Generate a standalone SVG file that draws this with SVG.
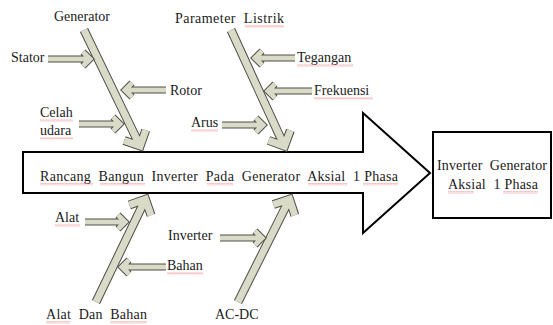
<svg xmlns="http://www.w3.org/2000/svg" width="553" height="325" viewBox="0 0 553 325">
<style>
  text { font-family: "Liberation Serif", "Times New Roman", serif; font-size: 14px; fill: #1a1a1a; white-space: pre; }
  .ao { fill: none; stroke: #4f4f47; stroke-linecap: butt; stroke-linejoin: miter; stroke-miterlimit: 10; }
  .ai { fill: none; stroke: #d9dac8; stroke-linecap: butt; stroke-linejoin: miter; stroke-miterlimit: 10; }
  .bone .ao { stroke-width: 9; }
  .bone .ai { stroke-width: 7; }
  .small .ao { stroke-width: 7; }
  .small .ai { stroke-width: 5; }
  .outline { fill: #ffffff; stroke: #000000; stroke-width: 2; }
  .sq { fill: url(#wavy); opacity: 0.75; }
</style>
<defs>
  <pattern id="wavy" width="3" height="2.5" patternUnits="userSpaceOnUse">
    <path d="M0,2 L0.75,0.5 L1.5,2 L2.25,0.5 L3,2" fill="none" stroke="#e0302a" stroke-width="0.6" stroke-dasharray="1 0.6"/>
  </pattern>
</defs>

<g id="spine">
  <polygon class="outline" points="23,152 363,152 363,113 430,173 363,233 363,193 23,193"/>
  <text x="40" y="181" textLength="358" lengthAdjust="spacing">Rancang  Bangun  Inverter  Pada  Generator  Aksial  1 Phasa</text>
</g>

<g id="result">
  <rect class="outline" x="433" y="132" width="118" height="86"/>
  <text x="437" y="170" textLength="110" lengthAdjust="spacing">Inverter  Generator</text>
  <text x="448" y="189" textLength="90" lengthAdjust="spacing">Aksial  1 Phasa</text>
</g>

<g id="connectors">
  <g class="bone" id="bone-generator" transform="translate(84,30) rotate(64.2)">
    <path class="ao" d="M0,0 H129 M117,-12 L129,0 L117,12"/>
    <path class="ai" d="M0,0 H129 M117,-12 L129,0 L117,12"/>
  </g>
  <g class="bone" id="bone-parameter" transform="translate(231,30) rotate(65.3)">
    <path class="ao" d="M0,0 H128 M116,-12 L128,0 L116,12"/>
    <path class="ai" d="M0,0 H128 M116,-12 L128,0 L116,12"/>
  </g>
  <g class="bone" id="bone-alat" transform="translate(96,302) rotate(-64.3)">
    <path class="ao" d="M0,0 H114 M102,-12 L114,0 L102,12"/>
    <path class="ai" d="M0,0 H114 M102,-12 L114,0 L102,12"/>
  </g>
  <g class="bone" id="bone-acdc" transform="translate(238,302) rotate(-63.4)">
    <path class="ao" d="M0,0 H115 M103,-12 L115,0 L103,12"/>
    <path class="ai" d="M0,0 H115 M103,-12 L115,0 L103,12"/>
  </g>

  <g class="small" id="arrow-stator">
    <path class="ao" d="M48,59 H90 M83,52 L90,59 L83,66"/>
    <path class="ai" d="M48,59 H90 M83,52 L90,59 L83,66"/>
  </g>
  <g class="small" id="arrow-rotor">
    <path class="ao" d="M166,90 H125 M132,83 L125,90 L132,97"/>
    <path class="ai" d="M166,90 H125 M132,83 L125,90 L132,97"/>
  </g>
  <g class="small" id="arrow-celah">
    <path class="ao" d="M79,124 H120 M113,117 L120,124 L113,131"/>
    <path class="ai" d="M79,124 H120 M113,117 L120,124 L113,131"/>
  </g>
  <g class="small" id="arrow-tegangan">
    <path class="ao" d="M295,58 H255 M262,51 L255,58 L262,65"/>
    <path class="ai" d="M295,58 H255 M262,51 L255,58 L262,65"/>
  </g>
  <g class="small" id="arrow-frekuensi">
    <path class="ao" d="M312,91 H268 M275,84 L268,91 L275,98"/>
    <path class="ai" d="M312,91 H268 M275,84 L268,91 L275,98"/>
  </g>
  <g class="small" id="arrow-arus">
    <path class="ao" d="M222,125 H263 M256,118 L263,125 L256,132"/>
    <path class="ai" d="M222,125 H263 M256,118 L263,125 L256,132"/>
  </g>
  <g class="small" id="arrow-alat">
    <path class="ao" d="M85,222 H125 M118,215 L125,222 L118,229"/>
    <path class="ai" d="M85,222 H125 M118,215 L125,222 L118,229"/>
  </g>
  <g class="small" id="arrow-bahan">
    <path class="ao" d="M166,267 H122 M129,260 L122,267 L129,274"/>
    <path class="ai" d="M166,267 H122 M129,260 L122,267 L129,274"/>
  </g>
  <g class="small" id="arrow-inverter">
    <path class="ao" d="M220,238 H262 M255,231 L262,238 L255,245"/>
    <path class="ai" d="M220,238 H262 M255,231 L262,238 L255,245"/>
  </g>
</g>

<g id="label-generator"><text x="54" y="21">Generator</text></g>
<g id="label-parameter"><text x="175" y="23" textLength="109" lengthAdjust="spacing">Parameter  Listrik</text></g>
<g id="label-stator"><text x="11" y="62">Stator</text></g>
<g id="label-rotor"><text x="170" y="95">Rotor</text></g>
<g id="label-celah"><text x="40" y="117">Celah</text><text x="40" y="135">udara</text></g>
<g id="label-arus"><text x="191" y="127">Arus</text></g>
<g id="label-tegangan"><text x="297" y="62">Tegangan</text></g>
<g id="label-frekuensi"><text x="314" y="95">Frekuensi</text></g>
<g id="label-alat"><text x="55" y="222">Alat</text></g>
<g id="label-inverter"><text x="168" y="240">Inverter</text></g>
<g id="label-bahan"><text x="167" y="270">Bahan</text></g>
<g id="label-alatdanbahan"><text x="46" y="319" textLength="101" lengthAdjust="spacing">Alat  Dan  Bahan</text></g>
<g id="label-acdc"><text x="215" y="319">AC-DC</text></g>

<g id="spellcheck">
  <rect class="sq" x="40" y="183" width="53" height="2.5"/>
  <rect class="sq" x="100" y="183" width="45" height="2.5"/>
  <rect class="sq" x="207" y="183" width="26" height="2.5"/>
  <rect class="sq" x="308" y="183" width="39" height="2.5"/>
  <rect class="sq" x="363" y="183" width="35" height="2.5"/>
  <rect class="sq" x="448" y="191" width="26" height="2.5"/>
  <rect class="sq" x="503" y="191" width="35" height="2.5"/>
  <rect class="sq" x="245" y="25" width="39" height="2.5"/>
  <rect class="sq" x="297" y="64" width="56" height="2.5"/>
  <rect class="sq" x="314" y="97" width="59" height="2.5"/>
  <rect class="sq" x="191" y="129" width="27" height="2.5"/>
  <rect class="sq" x="40" y="119" width="33" height="2.5"/>
  <rect class="sq" x="40" y="137" width="33" height="2.5"/>
  <rect class="sq" x="55" y="224" width="25" height="2.5"/>
  <rect class="sq" x="167" y="272" width="36" height="2.5"/>
  <rect class="sq" x="46" y="321" width="24" height="2.5"/>
  <rect class="sq" x="110" y="321" width="37" height="2.5"/>
</g>
</svg>
